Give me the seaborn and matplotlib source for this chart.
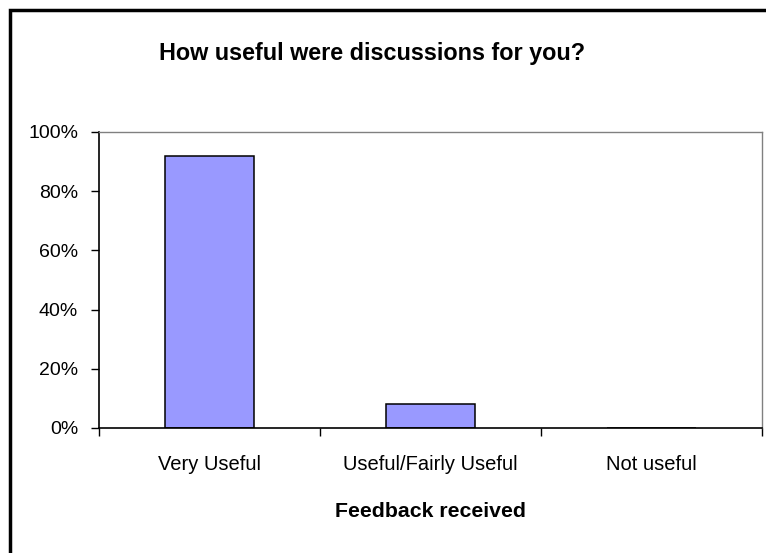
import matplotlib
matplotlib.use("Agg")
import matplotlib.pyplot as plt
import seaborn as sns
import pandas as pd
from matplotlib.patches import Rectangle
from matplotlib.ticker import PercentFormatter, FixedLocator

categories = ["Very Useful", "Useful/Fairly Useful", "Not useful"]
values = [0.92, 0.08, 0.0]
title = "How useful were discussions for you?"
xlabel = "Feedback received"

df = pd.DataFrame({"category": categories, "value": values})

sns.set_style("white")
plt.rcParams["font.family"] = ["Liberation Sans", "DejaVu Sans"]
plt.rcParams["text.color"] = "black"
plt.rcParams["axes.labelcolor"] = "black"
plt.rcParams["xtick.color"] = "black"
plt.rcParams["ytick.color"] = "black"

fig = plt.figure(figsize=(7.66, 5.53), dpi=100)
W, H = 766, 553
ax = fig.add_axes([99 / W, (H - 428) / H, (762 - 99) / W, (428 - 132) / H])

sns.barplot(data=df, x="category", y="value", ax=ax, color="#9999FF",
            saturation=1, width=0.4, edgecolor="black", linewidth=1.1)

ax.set_xlim(-0.5, 2.5)
ax.set_ylim(0, 1.0)
ax.yaxis.set_major_locator(FixedLocator([0, 0.2, 0.4, 0.6, 0.8, 1.0]))
ax.yaxis.set_major_formatter(PercentFormatter(1.0, decimals=0))
ax.tick_params(axis="y", which="major", direction="out", length=6, width=1,
               color="black", labelsize=14, pad=9, left=True, labelcolor="black")
ax.tick_params(axis="x", which="major", length=0, labelsize=14.5, pad=19.5,
               labelcolor="black")
ax.set_xticks([-0.5, 0.5, 1.5, 2.5], minor=True)
ax.tick_params(axis="x", which="minor", direction="out", length=6, width=1,
               color="black", bottom=True)

for s in ["left", "bottom"]:
    ax.spines[s].set_color("black")
    ax.spines[s].set_linewidth(1.2)
for s in ["top", "right"]:
    ax.spines[s].set_visible(True)
    ax.spines[s].set_color("#808080")
    ax.spines[s].set_linewidth(1.0)

ax.set_ylabel("")
ax.set_xlabel(xlabel, fontsize=15.3, fontweight="bold", color="black")
ax.xaxis.set_label_coords(0.5, (428 - 502) / 296)

fig.text(372 / W, 1 - 60 / H, title, ha="center", va="baseline",
         fontsize=16.8, fontweight="bold", color="black")

# outer chart border (left and top visible)
fig.patches.append(Rectangle((10 / W, -0.05), 1.1, (H - 10) / H + 0.05,
                             transform=fig.transFigure, fill=False,
                             edgecolor="black", linewidth=2.5, zorder=10))

fig.savefig("out.png", dpi=100)
